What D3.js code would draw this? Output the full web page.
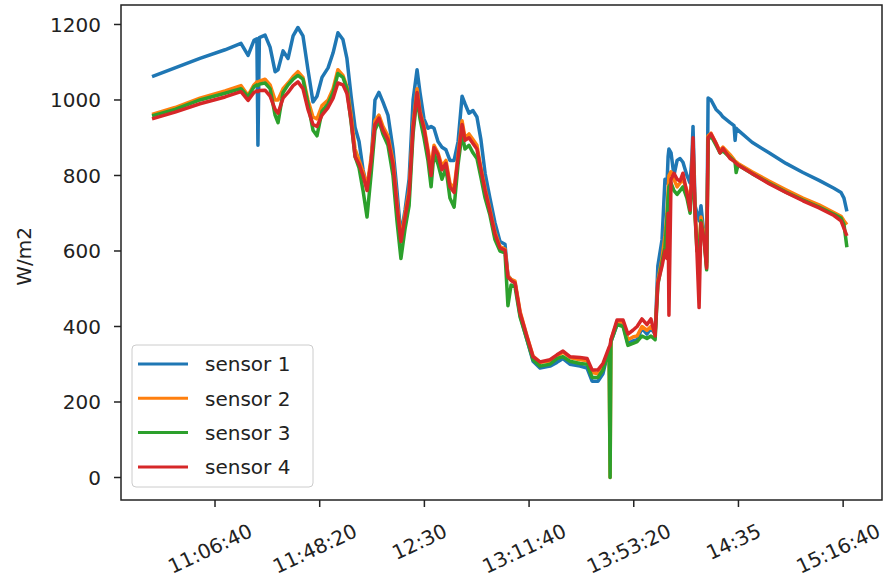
<!DOCTYPE html>
<html>
<head>
<meta charset="utf-8">
<script src="https://cdn.jsdelivr.net/npm/d3@7"></script>
<style>
    body { margin: 0; background: #fff; }
    text { font-family: "DejaVu Sans", sans-serif; fill: #222; }
</style>
</head>
<body>
<div id="chart"></div>
<script>
const width = 884;
const height = 581;
const plot = { left: 121, right: 882, top: 5, bottom: 500 };

// time of each sample (HH:MM:SS)
const times = [
    "10:41:36", "10:50:45", "11:00:40", "11:10:40", "11:17:00", "11:19:50", "11:22:10", "11:23:20", "11:23:45", "11:24:20",
    "11:26:35", "11:28:35", "11:30:35", "11:31:45", "11:33:45", "11:35:45", "11:37:45", "11:39:40", "11:41:40", "11:43:40",
    "11:45:40", "11:47:15", "11:49:15", "11:51:40", "11:53:40", "11:55:35", "11:57:35", "11:59:10", "12:00:50", "12:02:25",
    "12:04:00", "12:05:35", "12:07:10", "12:08:45", "12:10:20", "12:11:55", "12:13:30", "12:15:30", "12:17:30", "12:19:05",
    "12:20:40", "12:22:20", "12:23:55", "12:25:30", "12:27:05", "12:28:15", "12:29:50", "12:31:25", "12:32:40", "12:33:50",
    "12:35:25", "12:37:00", "12:38:35", "12:40:10", "12:41:50", "12:43:25", "12:45:00", "12:46:10", "12:47:45", "12:49:20",
    "12:50:55", "12:52:30", "12:54:10", "12:56:05", "12:58:05", "13:00:05", "13:02:05", "13:03:15", "13:04:30", "13:06:05",
    "13:08:05", "13:10:50", "13:13:15", "13:16:00", "13:20:00", "13:22:45", "13:25:10", "13:27:55", "13:31:55", "13:34:45",
    "13:36:45", "13:39:05", "13:41:05", "13:42:40", "13:43:30", "13:43:55", "13:44:15", "13:46:40", "13:49:05", "13:51:00",
    "13:53:00", "13:54:40", "13:56:35", "13:58:35", "14:00:10", "14:01:50", "14:02:55", "14:04:35", "14:05:45", "14:06:35",
    "14:07:00", "14:07:20", "14:08:10", "14:09:20", "14:10:35", "14:11:45", "14:12:55", "14:14:30", "14:15:45", "14:16:30",
    "14:16:55", "14:17:45", "14:18:30", "14:19:20", "14:20:05", "14:21:20", "14:22:20", "14:22:55", "14:24:05", "14:26:05",
    "14:27:40", "14:28:50", "14:31:40", "14:33:15", "14:33:40", "14:34:05", "14:34:50", "14:40:25", "14:47:10", "14:53:55",
    "15:00:40", "15:07:05", "15:13:00", "15:15:50", "15:17:00", "15:18:10"
];

const sensor1 = [
    1062, 1085, 1110, 1133, 1150, 1118, 1158, 1162, 880, 1165,
    1172, 1140, 1075, 1080, 1130, 1110, 1170, 1192, 1170, 1080,
    995, 1010, 1060, 1085, 1125, 1178, 1160, 1110, 1010, 927,
    890, 815, 769, 830, 1000, 1020, 995, 960, 870, 760,
    640, 710, 790, 1000, 1080, 1020, 950, 925, 930, 925,
    890, 875, 868, 840, 840, 890, 1010, 990, 965, 972,
    955, 895, 806, 740, 675, 625, 618, 535, 525, 515,
    430, 365, 308, 290, 295, 305, 315, 300, 295, 290,
    255, 255, 275, 320, 340, 345, 360, 405, 405, 355,
    362, 365, 395, 380, 395, 380, 560, 630, 790, 780,
    850, 870, 860, 800, 840, 845, 835, 800, 780, 850,
    930, 720, 700, 680, 720, 640, 570, 1005, 1000, 975,
    965, 955, 940, 932, 893, 925, 920, 888, 860, 832,
    808, 787, 766, 755, 740, 705
];

const sensor2 = [
    962, 980, 1005, 1024, 1038, 1012, 1040, 1048, 1045, 1050,
    1055, 1040, 1000, 1000, 1030, 1045, 1062, 1075, 1060, 1000,
    955, 950, 985, 1000, 1030, 1080, 1065, 1035, 960, 870,
    840, 810, 770, 845, 945, 960, 930, 905, 840, 730,
    630, 700, 760, 935, 1030, 970, 930, 870, 820, 880,
    860, 825, 840, 780, 765, 855, 945, 900, 910, 895,
    880, 820, 765, 710, 650, 612, 605, 535, 525, 520,
    440, 375, 322, 305, 308, 322, 332, 318, 312, 310,
    278, 275, 295, 320, 340, 0, 365, 412, 412, 365,
    372, 375, 400, 390, 400, 385, 520, 580, 640, 700,
    760, 800, 810, 790, 770, 780, 790, 760, 720, 800,
    880, 700, 620, 600, 690, 640, 560, 905, 912, 885,
    865, 875, 855, 842, 838, 836, 832, 810, 785, 762,
    740, 722, 702, 692, 680, 670
];

const sensor3 = [
    958, 975, 1000, 1018, 1030, 1008, 1035, 1040, 1038, 1042,
    1045, 1030, 960, 940, 1020, 1040, 1055, 1065, 1055, 990,
    920, 905, 970, 990, 1020, 1070, 1060, 1030, 940, 850,
    820, 760, 690, 800, 920, 945, 910, 880, 800, 680,
    580, 660, 720, 910, 1010, 950, 900, 840, 770, 860,
    830, 790, 820, 740, 716, 830, 910, 870, 880, 860,
    845, 795, 740, 695, 630, 600, 595, 455, 510, 505,
    425, 365, 312, 295, 300, 315, 320, 308, 302, 300,
    265, 265, 285, 320, 340, 0, 360, 405, 400, 350,
    355, 360, 375, 368, 375, 365, 510, 570, 610, 690,
    740, 770, 780, 760, 750, 760, 770, 740, 700, 780,
    860, 690, 600, 590, 680, 630, 550, 895, 905, 880,
    860, 865, 848, 838, 835, 808, 828, 805, 780, 756,
    735, 716, 697, 687, 670, 610
];

const sensor4 = [
    950, 968, 990, 1008, 1022, 999, 1020, 1024, 1022, 1025,
    1026, 1010, 975, 965, 1005, 1020, 1038, 1048, 1030, 975,
    935, 930, 960, 980, 1005, 1045, 1040, 1017, 946, 850,
    830, 800, 760, 835, 935, 952, 920, 895, 830, 720,
    625, 690, 750, 925, 1020, 965, 925, 860, 800, 874,
    855, 815, 832, 770, 755, 848, 935, 893, 900, 885,
    870, 815, 760, 705, 645, 608, 602, 531, 522, 515,
    436, 373, 320, 306, 312, 325, 335, 320, 318, 315,
    285, 285, 302, 330, 345, 350, 365, 417, 417, 380,
    390, 400, 420, 405, 420, 375, 515, 560, 600, 580,
    700, 430, 790, 806, 790, 785, 806, 753, 708, 830,
    900, 700, 594, 450, 674, 630, 555, 900, 910, 885,
    860, 872, 845, 838, 835, 832, 828, 805, 778, 755,
    733, 714, 694, 680, 660, 640
];

const seriesNames = ["sensor 1", "sensor 2", "sensor 3", "sensor 4"];
const seriesColors = ["#1f77b4", "#ff7f0e", "#2ca02c", "#d62728"];
const xLimits = ["10:29:15", "15:32:08"];
const xTickLabels = ["11:06:40", "11:48:20", "12:30", "13:11:40", "13:53:20", "14:35", "15:16:40"];
const yTicks = [0, 200, 400, 600, 800, 1000, 1200];

function toSeconds(str) {
    let [h, m, s] = str.split(":").map(Number);
    return h * 3600 + m * 60 + (s || 0);
}

let allSeries = [sensor1, sensor2, sensor3, sensor4];

let svg = d3.select("#chart")
    .append("svg")
    .attr("width", width)
    .attr("height", height);

let x = d3.scaleLinear()
    .domain(xLimits.map(toSeconds))
    .range([plot.left, plot.right]);

// matplotlib style 5% margins on y
let yMin = d3.min(allSeries, s => d3.min(s));
let yMax = d3.max(allSeries, s => d3.max(s));
let pad = (yMax - yMin) * 0.05;
let y = d3.scaleLinear()
    .domain([yMin - pad, yMax + pad])
    .range([plot.bottom, plot.top]);

// lines
let line = d3.line()
    .x((d, i) => x(toSeconds(times[i])))
    .y(d => y(d));

svg.append("clipPath").attr("id", "clip")
    .append("rect")
    .attr("x", plot.left).attr("y", plot.top)
    .attr("width", plot.right - plot.left).attr("height", plot.bottom - plot.top);

let lines = svg.append("g")
    .attr("clip-path", "url(#clip)");

allSeries.forEach((s, k) => {
    lines.append("path")
        .datum(s)
        .attr("fill", "none")
        .attr("stroke", seriesColors[k])
        .attr("stroke-width", 3.5)
        .attr("stroke-linejoin", "round")
        .attr("d", line);
});

// frame
svg.append("rect")
    .attr("x", plot.left).attr("y", plot.top)
    .attr("width", plot.right - plot.left).attr("height", plot.bottom - plot.top)
    .attr("fill", "none")
    .attr("stroke", "#222")
    .attr("stroke-width", 1.5);

// y axis
let yAxis = svg.append("g");
yTicks.forEach(v => {
    yAxis.append("line")
        .attr("x1", plot.left - 7).attr("x2", plot.left)
        .attr("y1", y(v)).attr("y2", y(v))
        .attr("stroke", "#222").attr("stroke-width", 1.5);
    yAxis.append("text")
        .attr("x", plot.left - 20)
        .attr("y", y(v))
        .attr("dy", "0.36em")
        .attr("text-anchor", "end")
        .attr("font-size", 20)
        .text(v);
});

svg.append("text")
    .attr("transform", "translate(24," + ((plot.top + plot.bottom) / 2 + 4) + ") rotate(-90)")
    .attr("text-anchor", "middle")
    .attr("dy", "0.36em")
    .attr("font-size", 20)
    .text("W/m2");

// x axis, labels rotated 25 degrees
let xAxis = svg.append("g");
let angle = 25 * Math.PI / 180;
xTickLabels.forEach(lbl => {
    let px = x(toSeconds(lbl));
    xAxis.append("line")
        .attr("x1", px).attr("x2", px)
        .attr("y1", plot.bottom).attr("y2", plot.bottom + 7)
        .attr("stroke", "#222").attr("stroke-width", 1.5);
    let t = xAxis.append("text")
        .attr("text-anchor", "middle")
        .attr("dy", "0.36em")
        .attr("font-size", 20)
        .text(lbl);
    let w = t.node().getComputedTextLength();
    let cy = plot.bottom + 19 + (w * Math.sin(angle) + 23 * Math.cos(angle)) / 2;
    t.attr("transform", "translate(" + (px - 5) + "," + cy + ") rotate(-25)");
});

// legend
let legend = svg.append("g");
legend.append("rect")
    .attr("x", 132).attr("y", 345)
    .attr("width", 181).attr("height", 142)
    .attr("rx", 4)
    .attr("fill", "#fff").attr("fill-opacity", 0.8)
    .attr("stroke", "#ccc").attr("stroke-width", 1);
seriesNames.forEach((name, k) => {
    let ly = 364 + k * 34.3;
    legend.append("line")
        .attr("x1", 138).attr("x2", 188)
        .attr("y1", ly).attr("y2", ly)
        .attr("stroke", seriesColors[k])
        .attr("stroke-width", 3);
    legend.append("text")
        .attr("x", 205).attr("y", ly)
        .attr("dy", "0.36em")
        .attr("font-size", 20)
        .text(name);
});
</script>
</body>
</html>
